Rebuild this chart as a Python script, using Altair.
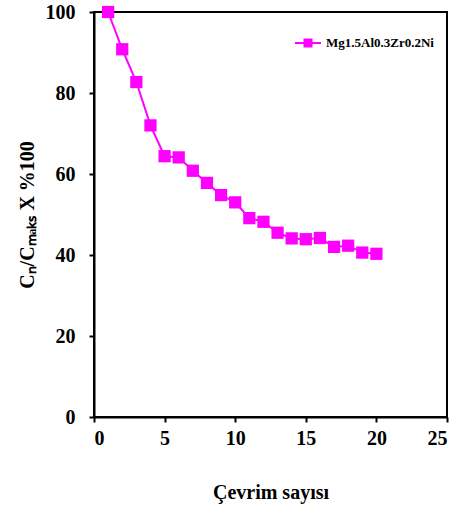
import altair as alt
import pandas as pd

cycles = list(range(1, 21))
values = [100, 90.8, 82.7, 72.0, 64.4, 64.1, 60.8, 57.8, 54.8, 53.0,
          49.1, 48.2, 45.5, 44.1, 43.9, 44.2, 42.0, 42.3, 40.6, 40.3]
series_name = "Mg1.5Al0.3Zr0.2Ni"
x_ticks = [0, 5, 10, 15, 20, 25]
y_ticks = [0, 20, 40, 60, 80, 100]

df = pd.DataFrame({"x": cycles, "y": values, "s": [series_name] * len(cycles)})

MAG = "#ff00ff"
FONT = "Liberation Serif"

xenc = alt.X("x:Q", scale=alt.Scale(domain=[0, 25], nice=False),
             axis=alt.Axis(values=x_ticks, title="Çevrim sayısı", grid=False,
                           labelPadding=6, titlePadding=34))
yenc = alt.Y("y:Q", scale=alt.Scale(domain=[0, 100], nice=False),
             axis=alt.Axis(values=y_ticks, title="Cₙ/Cₘₐₖₛ X %100", grid=False,
                           labelPadding=14, titlePadding=8))

legend_path = "M-1,0H1M-0.27,-0.27H0.27V0.27H-0.27Z"
color = alt.Color("s:N", scale=alt.Scale(range=[MAG]),
                  legend=alt.Legend(title=None, orient="none", legendX=200, legendY=17,
                                    symbolType=legend_path, symbolSize=676,
                                    symbolStrokeWidth=2, symbolStrokeColor=MAG,
                                    symbolFillColor=MAG,
                                    labelFont=FONT, labelFontWeight="bold",
                                    labelFontSize=13, labelColor="black"))

line = alt.Chart(df).mark_line(color=MAG, strokeWidth=2).encode(x=xenc, y=yenc)
pts = alt.Chart(df).mark_point(shape="square", size=150, filled=True, opacity=1).encode(
    x=xenc, y=yenc, color=color)

chart = (line + pts).properties(
    width=353, height=405,
    background="white",
    autosize=alt.AutoSizeParams(type="none"),
    padding={"left": 94, "top": 12, "right": 13, "bottom": 93},
).configure_view(stroke="black", strokeWidth=2).configure_axis(
    domainColor="black", domainWidth=2, tickColor="black", tickWidth=2, tickSize=5,
    labelFont=FONT, labelFontWeight="bold", labelFontSize=20, labelColor="black",
    titleFont=FONT, titleFontWeight="bold", titleFontSize=20, titleColor="black",
)

chart.save("out.html", embed_options={"renderer": "svg", "actions": False})
